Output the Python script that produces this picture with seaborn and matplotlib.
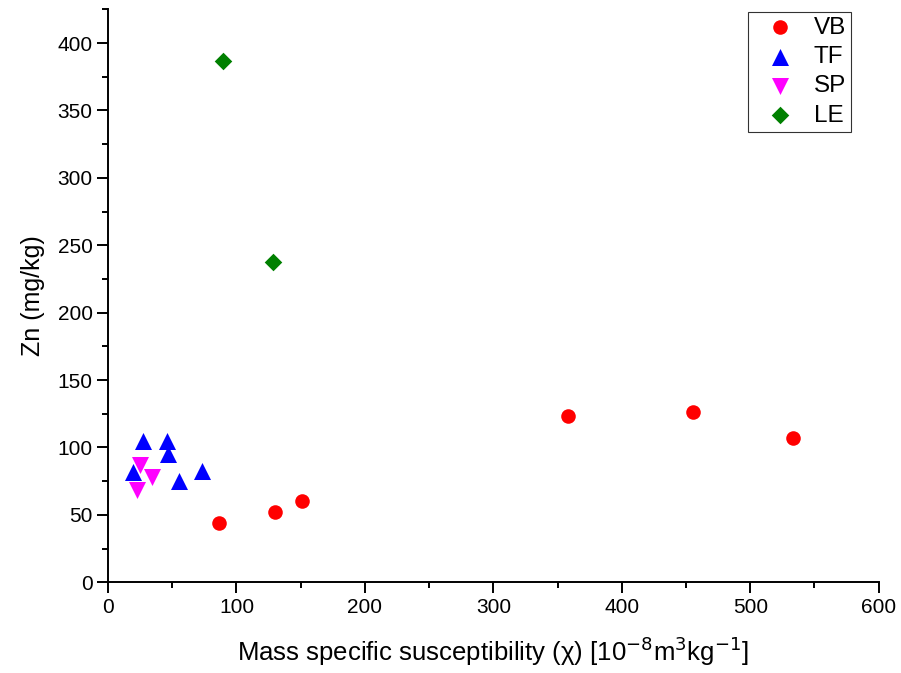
import matplotlib
matplotlib.use("Agg")
import matplotlib.pyplot as plt
import seaborn as sns
import pandas as pd
from matplotlib.ticker import MultipleLocator

sns.set_style("ticks")
plt.rcParams['font.family'] = ['Liberation Sans', 'DejaVu Sans']
plt.rcParams.update({'text.color': 'black', 'axes.labelcolor': 'black',
                     'xtick.color': 'black', 'ytick.color': 'black',
                     'axes.edgecolor': 'black'})

# Data
vb_x = [86.4, 130.0, 150.8, 358.1, 455.4, 533.3]
vb_y = [44.0, 52.1, 60.5, 123.5, 126.2, 106.7]
tf_x = [27.0, 45.9, 46.9, 19.7, 55.5, 73.4]
tf_y = [104.5, 104.8, 94.9, 82.0, 75.1, 82.3]
sp_x = [25.1, 34.5, 22.3]
sp_y = [87.0, 77.8, 68.4]
le_x = [89.5, 128.5]
le_y = [386.7, 237.2]

groups = ["VB", "TF", "SP", "LE"]
colors = {"VB": "#FF0000", "TF": "#0000FF", "SP": "#FF00FF", "LE": "#008000"}
markers = {"VB": "o", "TF": "^", "SP": "v", "LE": "D"}
msizes = {"VB": 110, "TF": 150, "SP": 150, "LE": 80}

df = pd.concat([
    pd.DataFrame({"x": vb_x, "y": vb_y, "g": "VB"}),
    pd.DataFrame({"x": tf_x, "y": tf_y, "g": "TF"}),
    pd.DataFrame({"x": sp_x, "y": sp_y, "g": "SP"}),
    pd.DataFrame({"x": le_x, "y": le_y, "g": "LE"}),
], ignore_index=True)

fig = plt.figure(figsize=(9.01, 6.73), dpi=100)
ax = fig.add_axes([108/901, 1-582.3/673, (878.7-108)/901, (582.3-9.3)/673])

for g in groups:
    sub = df[df["g"] == g]
    sns.scatterplot(data=sub, x="x", y="y", ax=ax, color=colors[g], marker=markers[g],
                    s=msizes[g], linewidth=0, label=g, clip_on=False)

ax.set_xlim(0, 600)
ax.set_ylim(0, 425)
ax.xaxis.set_major_locator(MultipleLocator(100))
ax.xaxis.set_minor_locator(MultipleLocator(50))
ax.yaxis.set_major_locator(MultipleLocator(50))
ax.yaxis.set_minor_locator(MultipleLocator(25))
ax.tick_params(which='major', direction='out', length=8, width=1.4, labelsize=15, pad=3,
               colors='black')
ax.tick_params(which='minor', direction='out', length=4.5, width=1.4, colors='black')
for s in ['top', 'right']:
    ax.spines[s].set_visible(False)
for s in ['left', 'bottom']:
    ax.spines[s].set_linewidth(1.4)
    ax.spines[s].set_color('black')

ax.set_xlabel("Mass specific susceptibility (χ) [10$^{-8}$m$^{3}$kg$^{-1}$]", fontsize=18.5,
              labelpad=13, color='black')
ax.set_ylabel("Zn (mg/kg)", fontsize=18, labelpad=9, color='black')

leg = ax.legend(loc='upper right', bbox_to_anchor=(851/901, 1-12/673), bbox_transform=fig.transFigure,
                borderaxespad=0, fontsize=17.5, frameon=True, fancybox=False, edgecolor='black',
                handletextpad=0.3, labelspacing=0.3, borderpad=0.2, handlelength=2.2)
leg.get_frame().set_linewidth(0.8)
for t in leg.get_texts():
    t.set_color('black')

fig.savefig("out.png", dpi=100)
